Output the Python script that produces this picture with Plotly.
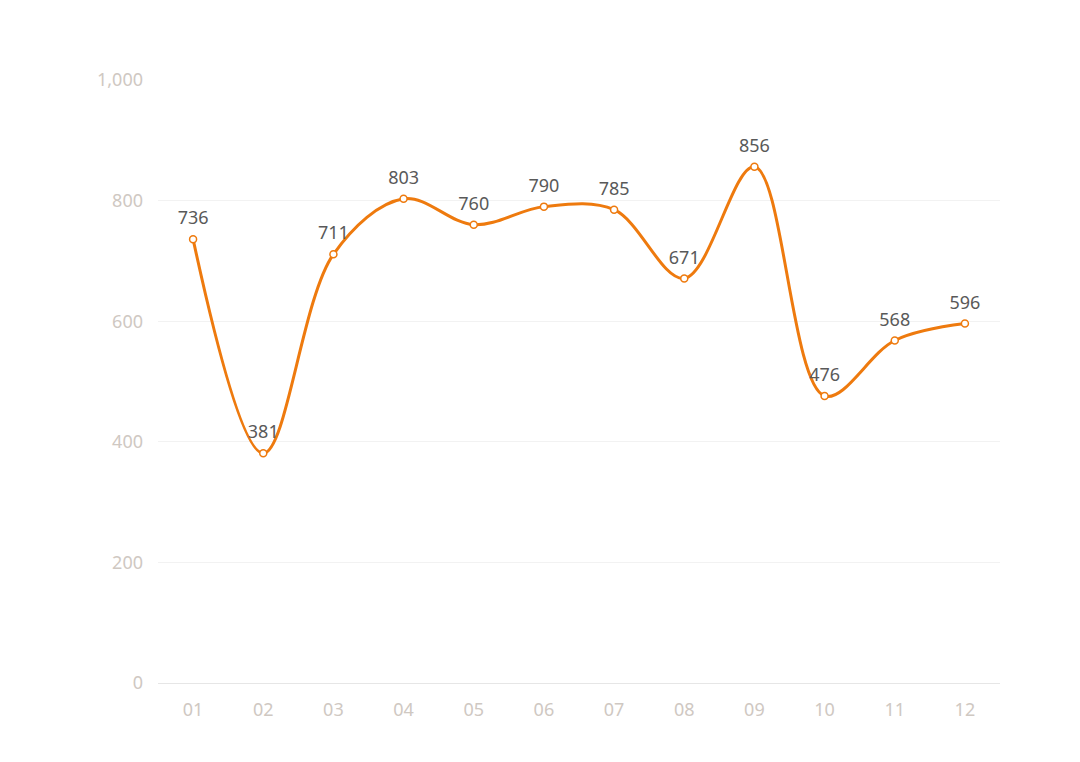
import plotly.graph_objects as go

months = ["01", "02", "03", "04", "05", "06", "07", "08", "09", "10", "11", "12"]
values = [736, 381, 711, 803, 760, 790, 785, 671, 856, 476, 568, 596]

ORANGE = "#EE7A0E"
FONT = "Noto Sans, Open Sans, sans-serif"

fig = go.Figure()
fig.add_trace(go.Scatter(
    x=months, y=values,
    mode="lines+markers",
    line=dict(color=ORANGE, width=3, shape="spline", smoothing=1.0),
    marker=dict(size=7, color="white", line=dict(color=ORANGE, width=1.5)),
    cliponaxis=False,
    hoverinfo="x+y",
))
# labels (invisible larger markers to lift text above the points)
fig.add_trace(go.Scatter(
    x=months, y=values,
    mode="markers+text",
    marker=dict(size=15, color="rgba(0,0,0,0)"),
    text=[str(v) for v in values],
    textposition="top center",
    textfont=dict(family=FONT, size=18, color="#595959"),
    cliponaxis=False,
    hoverinfo="skip",
))

fig.update_layout(
    width=1080, height=762,
    margin=dict(l=158, r=80, t=80, b=79),
    paper_bgcolor="white", plot_bgcolor="white",
    showlegend=False,
    font=dict(family=FONT),
    xaxis=dict(
        type="category",
        range=[-0.5, 11.5],
        showgrid=False,
        showline=True, linecolor="#E6E6E6", linewidth=1,
        ticks="", tickfont=dict(size=18, color="#CFC8C2"),
        ticklabelstandoff=10,
        zeroline=False,
    ),
    yaxis=dict(
        range=[0, 1000],
        tickvals=[0, 200, 400, 600, 800, 1000],
        tickformat=",d",
        showgrid=True, gridcolor="#F2F2F2", gridwidth=1,
        zeroline=False, showline=False,
        ticks="", tickfont=dict(size=18, color="#CFC8C2"),
        ticklabelstandoff=14,
    ),
)

fig.write_html("out.html")
